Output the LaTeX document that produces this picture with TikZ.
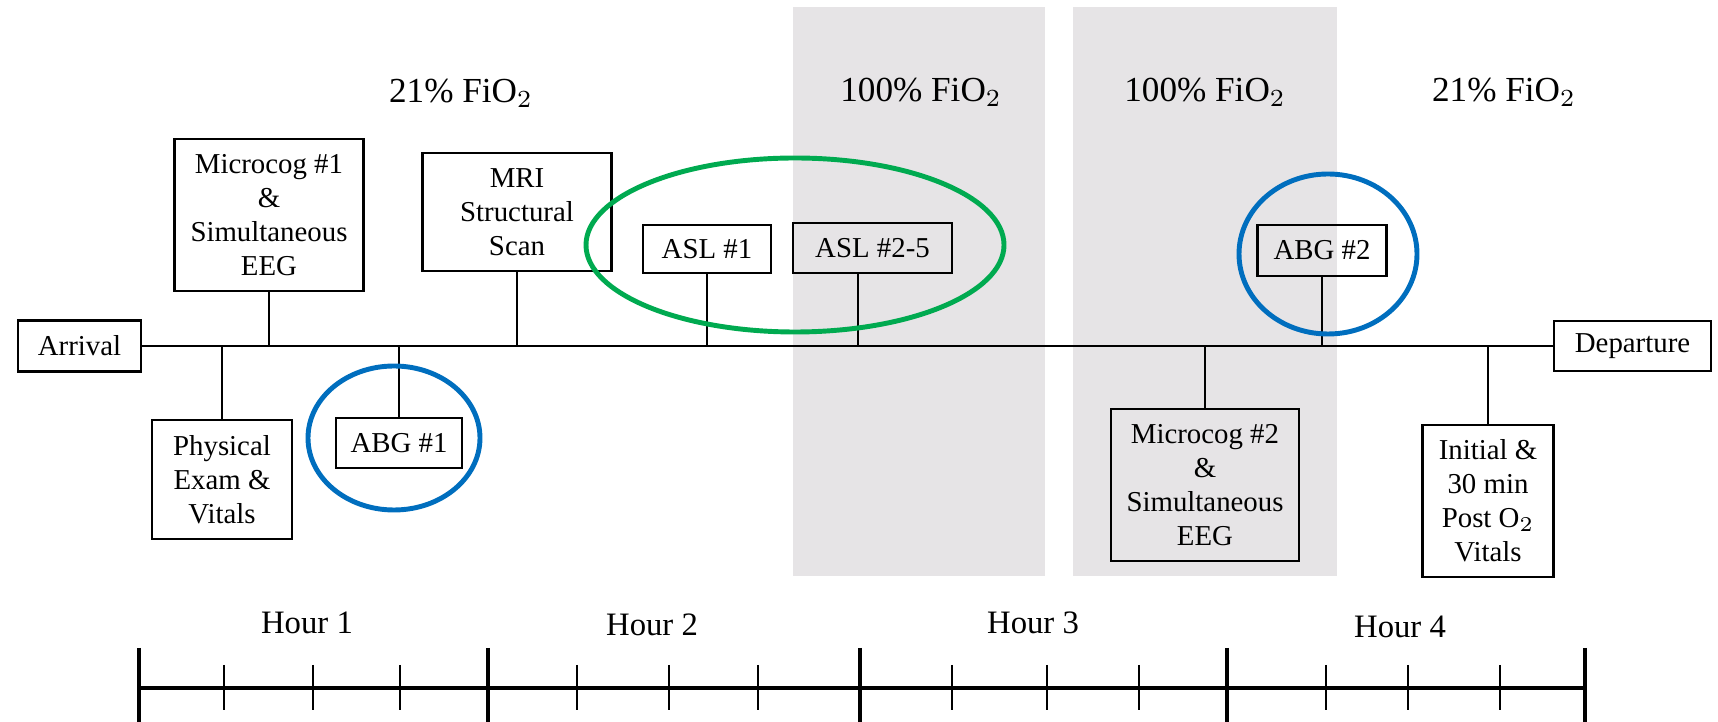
\documentclass[tikz,border=0pt]{standalone}
\usepackage{fontspec}
\setmainfont{Liberation Serif}
\definecolor{bandgray}{RGB}{230,228,230}
\definecolor{ringgreen}{RGB}{0,170,80}
\definecolor{ringblue}{RGB}{0,110,190}
\begin{document}
\begin{tikzpicture}[
        x=0.01cm, y=-0.01cm,
        box/.style={
            rectangle,
            draw=black,
            line width=0.6pt,
            align=center,
            font=\fontsize{8.2}{9.7}\selectfont,
            inner sep=2pt
        },
        phase/.style={font=\fontsize{10}{12}\selectfont},
        hour/.style={font=\fontsize{9.3}{11}\selectfont},
        stem/.style={line width=0.6pt},
        ring/.style={line width=1.4pt}
    ]

    \useasboundingbox (0,0) rectangle (1718,722);

    \fill[bandgray] (793,7) rectangle (1045,576);
    \fill[bandgray] (1073,7) rectangle (1337,576);

    \node[phase] (p1) at (461,93)  {21\% FiO$_2$};
    \node[phase] (p2) at (921,92)  {100\% FiO$_2$};
    \node[phase] (p3) at (1205,92) {100\% FiO$_2$};
    \node[phase] (p4) at (1504,92) {21\% FiO$_2$};

    \node[box, minimum width=123*0.01cm, minimum height=51*0.01cm] (arr) at (79.5,346) {Arrival};
    \node[box, minimum width=157*0.01cm, minimum height=50*0.01cm] (dep) at (1632.5,346) {Departure};

    \node[box, minimum width=189*0.01cm, minimum height=152*0.01cm] (mc1) at (269,215) {Microcog \#1\\\&\\Simultaneous\\EEG};
    \node[box, minimum width=189*0.01cm, minimum height=118*0.01cm] (mri) at (517,212) {MRI\\Structural\\Scan};
    \node[box, minimum width=128*0.01cm, minimum height=48*0.01cm] (asl1) at (707,249) {ASL \#1};
    \node[box, minimum width=159*0.01cm, minimum height=50*0.01cm] (asl2) at (872.5,248) {ASL \#2-5};
    \node[box, minimum width=129*0.01cm, minimum height=51*0.01cm] (abg2) at (1322,250.5) {ABG \#2};

    \node[box, minimum width=140*0.01cm, minimum height=119*0.01cm] (pe) at (222,479.5) {Physical\\Exam \&\\Vitals};
    \node[box, minimum width=126*0.01cm, minimum height=50*0.01cm] (abg1) at (399,443) {ABG \#1};
    \node[box, minimum width=188*0.01cm, minimum height=152*0.01cm] (mc2) at (1205,485) {Microcog \#2\\\&\\Simultaneous\\EEG};
    \node[box, minimum width=131*0.01cm, minimum height=152*0.01cm] (ini) at (1488,501) {Initial \&\\30 min\\Post O$_2$\\Vitals};

    \draw[stem] (arr.east) -- (dep.west);
    \coordinate (asl2s) at (858,273);
    \foreach \b in {mc1, mri, asl1, abg2}
        \draw[stem] (\b.south) -- (\b.south |- arr.east);
    \draw[stem] (asl2s) -- (asl2s |- arr.east);
    \foreach \b in {pe, abg1, mc2, ini}
        \draw[stem] (\b.north) -- (\b.north |- arr.east);

    \draw[ring, ringgreen] (795,245) ellipse (209 and 87);
    \draw[ring, ringblue] (394,438) ellipse (86 and 72);
    \draw[ring, ringblue] (1328,254) ellipse (89 and 80);

    \node[hour] (h1) at (307,623)  {Hour 1};
    \node[hour] (h2) at (652,625)  {Hour 2};
    \node[hour] (h3) at (1033,623) {Hour 3};
    \node[hour] (h4) at (1400,627) {Hour 4};

    \coordinate (s0) at (139,688);
    \coordinate (s4) at (1585,688);
    \draw[line width=0.9pt] (s0) -- (s4);
    \foreach \x in {139, 488, 860, 1227, 1585}
        \draw[line width=1.3pt] (\x,648) -- (\x,722);
    \foreach \x in {224, 313, 400, 577, 669, 758, 952, 1047, 1139, 1326, 1408, 1500}
        \draw[line width=0.5pt] (\x,665) -- (\x,710);

    \end{tikzpicture}
\end{document}
